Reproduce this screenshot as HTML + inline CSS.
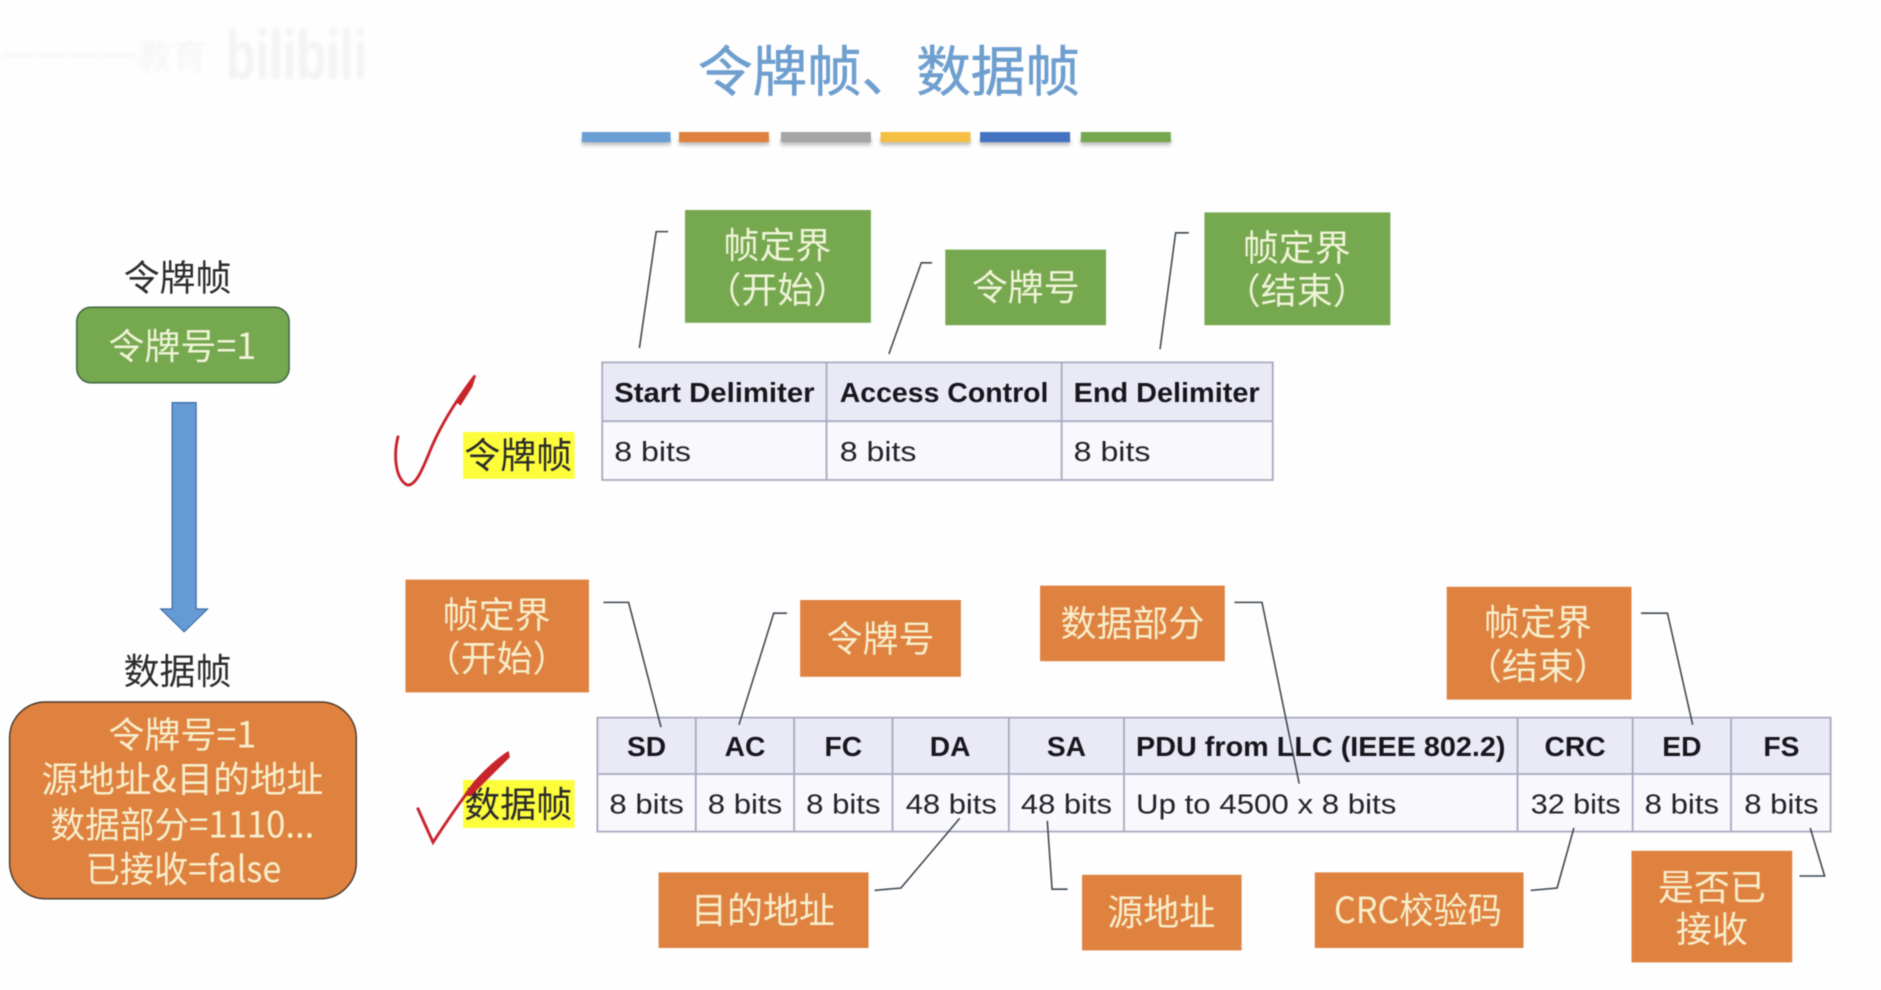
<!DOCTYPE html>
<html lang="zh">
<head>
<meta charset="utf-8">
<title>令牌帧、数据帧</title>
<style>
html,body{margin:0;padding:0;background:#fff;width:1881px;height:990px;overflow:hidden}
svg{display:block;filter:blur(.6px)}
text{font-family:"Liberation Sans","Noto Sans CJK SC",sans-serif}
.cn{font-family:"Noto Sans CJK SC","WenQuanYi Zen Hei",sans-serif;text-anchor:middle}
.w{fill:#f7eecb;font-size:30px;text-anchor:middle}
.g{fill:#f0f3d8;font-size:30px;text-anchor:middle}
.k{fill:#2b2b2b;font-size:30px;text-anchor:middle}
.th{font-weight:bold;font-size:23.5px;fill:#16161c}
.td{font-size:23.5px;fill:#22222a}
.c{text-anchor:middle}
.ld{fill:none;stroke:#3c4650;stroke-width:1.3}
.og{fill:#df8240}
.gr{fill:#76a850}
.tl{stroke:#a9a9bf;stroke-width:1.5;fill:none}
</style>
</head>
<body>
<svg width="1881" height="990" viewBox="0 0 1568 825" preserveAspectRatio="none" xmlns="http://www.w3.org/2000/svg">
<defs><filter id="b" x="-20%" y="-50%" width="140%" height="200%"><feGaussianBlur stdDeviation="1.5"/></filter></defs>
<rect width="1568" height="825" fill="#fefefe"/>

<!-- watermark -->
<g filter="url(#b)">
<text x="188" y="66" font-size="58" font-weight="bold" fill="#f3f3f3" textLength="118" lengthAdjust="spacingAndGlyphs">bilibili</text>
<text x="0" y="58" font-size="30" fill="#f4f4f4" textLength="172" lengthAdjust="spacingAndGlyphs">一一一一教育</text>
</g>

<!-- title -->
<text x="741" y="76" class="cn" font-size="45.500" fill="#6f9fcf" stroke="#6f9fcf" stroke-width=".5">令牌帧、数据帧</text>

<!-- bars -->
<g filter="url(#b)">
<rect x="485" y="115" width="74" height="6" fill="#bdbdbd"/>
<rect x="566" y="115" width="75" height="6" fill="#bdbdbd"/>
<rect x="651" y="115" width="75" height="6" fill="#bdbdbd"/>
<rect x="734" y="115" width="75" height="6" fill="#bdbdbd"/>
<rect x="817" y="115" width="75" height="6" fill="#bdbdbd"/>
<rect x="901" y="115" width="75" height="6" fill="#bdbdbd"/>
</g>
<rect x="485" y="110" width="74" height="8.500" fill="#6a9fd4"/>
<rect x="566" y="110" width="75" height="8.500" fill="#e0823f"/>
<rect x="651" y="110" width="75" height="8.500" fill="#a5a5a8"/>
<rect x="734" y="110" width="75" height="8.500" fill="#f4bf42"/>
<rect x="817" y="110" width="75" height="8.500" fill="#4272c0"/>
<rect x="901" y="110" width="75" height="8.500" fill="#76a850"/>

<!-- left column -->
<text x="148" y="242" class="cn k">令牌帧</text>
<rect x="64" y="256" width="177" height="63" rx="12" fill="#76a850" stroke="#3c6040" stroke-width="1.200"/>
<text x="152" y="299" class="cn g">令牌号=1</text>

<path d="M143.500 335.500H163.500V507.500H173L153.500 526.500L134 507.500H143.500Z" fill="#659ad4" stroke="#3a6ea5" stroke-width="1"/>

<text x="148" y="570" class="cn k">数据帧</text>
<rect x="8" y="585" width="289" height="164" rx="30" fill="#df8240" stroke="#4a3a2a" stroke-width="1.200"/>
<text x="152" y="623" class="cn w">令牌号=1</text>
<text x="152" y="660" class="cn w" textLength="235" lengthAdjust="spacingAndGlyphs">源地址&amp;目的地址</text>
<text x="152" y="698" class="cn w" textLength="220" lengthAdjust="spacingAndGlyphs">数据部分=1110...</text>
<text x="153" y="735" class="cn w" textLength="163" lengthAdjust="spacingAndGlyphs">已接收=false</text>

<!-- highlighted labels -->
<rect x="386" y="360" width="93" height="39" fill="#fdfd3c"/>
<text x="432" y="390" class="cn k">令牌帧</text>
<rect x="386" y="650" width="93" height="40" fill="#fdfd3c"/>
<text x="432" y="681" class="cn k">数据帧</text>

<!-- check marks -->
<path d="M332 363C328 378 329 398 339 404C346 406 352 392 360 372C370 349 383 330 396 313" fill="none" stroke="#c8242c" stroke-width="2.400"/>
<path d="M380 335L397 312L394 322L384 338Z" fill="#c8242c"/>
<path d="M348 673L361 702C372 685 386 665 396 652C405 642 415 633 424 627" fill="none" stroke="#c8242c" stroke-width="2.400"/>
<path d="M388 660L424 626L425 631L392 664Z" fill="#c8242c"/>

<!-- green callouts -->
<rect x="571" y="175" width="155" height="94" class="gr"/>
<text x="648" y="215" class="cn g">帧定界</text>
<text x="648" y="252" class="cn g">开始</text>
<text x="603" y="252" class="cn g">（</text>
<text x="693" y="252" class="cn g">）</text>
<rect x="788" y="208" width="134" height="63" class="gr"/>
<text x="855" y="250" class="cn g">令牌号</text>
<rect x="1004" y="177" width="155" height="94" class="gr"/>
<text x="1081" y="217" class="cn g">帧定界</text>
<text x="1081" y="253" class="cn g">结束</text>
<text x="1036" y="253" class="cn g">（</text>
<text x="1126" y="253" class="cn g">）</text>

<!-- token table -->
<rect x="502" y="302" width="559" height="49" fill="#eaeaf6"/>
<rect x="502" y="351" width="559" height="49" fill="#f8f8fd"/>
<path class="tl" d="M502 302H1061V400H502ZM502 351H1061M689 302V400M885 302V400"/>
<text x="512" y="335" class="th" textLength="167" lengthAdjust="spacingAndGlyphs">Start Delimiter</text>
<text x="700" y="335" class="th" textLength="174" lengthAdjust="spacingAndGlyphs">Access Control</text>
<text x="895" y="335" class="th" textLength="155" lengthAdjust="spacingAndGlyphs">End Delimiter</text>
<text x="512" y="384" class="td" textLength="64" lengthAdjust="spacingAndGlyphs">8 bits</text>
<text x="700" y="384" class="td" textLength="64" lengthAdjust="spacingAndGlyphs">8 bits</text>
<text x="895" y="384" class="td" textLength="64" lengthAdjust="spacingAndGlyphs">8 bits</text>

<!-- data table -->
<rect x="498" y="598" width="1028" height="47" fill="#eaeaf6"/>
<rect x="498" y="645" width="1028" height="48" fill="#f8f8fd"/>
<path class="tl" d="M498 598H1526V693H498ZM498 645H1526M580 598V693M662 598V693M744 598V693M841 598V693M937 598V693M1265 598V693M1361 598V693M1443 598V693"/>
<text x="539" y="630" class="th c">SD</text>
<text x="621" y="630" class="th c">AC</text>
<text x="703" y="630" class="th c">FC</text>
<text x="792" y="630" class="th c">DA</text>
<text x="889" y="630" class="th c">SA</text>
<text x="947" y="630" class="th" textLength="308" lengthAdjust="spacingAndGlyphs">PDU from LLC (IEEE 802.2)</text>
<text x="1313" y="630" class="th c">CRC</text>
<text x="1402" y="630" class="th c">ED</text>
<text x="1485" y="630" class="th c">FS</text>
<text x="508" y="678" class="td" textLength="62" lengthAdjust="spacingAndGlyphs">8 bits</text>
<text x="590" y="678" class="td" textLength="62" lengthAdjust="spacingAndGlyphs">8 bits</text>
<text x="672" y="678" class="td" textLength="62" lengthAdjust="spacingAndGlyphs">8 bits</text>
<text x="755" y="678" class="td" textLength="76" lengthAdjust="spacingAndGlyphs">48 bits</text>
<text x="851" y="678" class="td" textLength="76" lengthAdjust="spacingAndGlyphs">48 bits</text>
<text x="947" y="678" class="td" textLength="217" lengthAdjust="spacingAndGlyphs">Up to 4500 x 8 bits</text>
<text x="1276" y="678" class="td" textLength="75" lengthAdjust="spacingAndGlyphs">32 bits</text>
<text x="1371" y="678" class="td" textLength="62" lengthAdjust="spacingAndGlyphs">8 bits</text>
<text x="1454" y="678" class="td" textLength="62" lengthAdjust="spacingAndGlyphs">8 bits</text>

<!-- orange callouts -->
<rect x="338" y="483" width="153" height="94" class="og"/>
<text x="414" y="523" class="cn w">帧定界</text>
<text x="414" y="559" class="cn w">开始</text>
<text x="369" y="559" class="cn w">（</text>
<text x="459" y="559" class="cn w">）</text>
<rect x="667" y="500" width="134" height="64" class="og"/>
<text x="734" y="543" class="cn w">令牌号</text>
<rect x="867" y="488" width="154" height="63" class="og"/>
<text x="944" y="530" class="cn w">数据部分</text>
<rect x="1206" y="489" width="154" height="94" class="og"/>
<text x="1282" y="529" class="cn w">帧定界</text>
<text x="1282" y="566" class="cn w">结束</text>
<text x="1237" y="566" class="cn w">（</text>
<text x="1327" y="566" class="cn w">）</text>
<rect x="549" y="727" width="175" height="63" class="og"/>
<text x="636" y="769" class="cn w">目的地址</text>
<rect x="902" y="729" width="133" height="63" class="og"/>
<text x="968" y="771" class="cn w">源地址</text>
<rect x="1096" y="727" width="174" height="63" class="og"/>
<text x="1182" y="769" class="cn w" textLength="140" lengthAdjust="spacingAndGlyphs">CRC校验码</text>
<rect x="1360" y="709" width="134" height="93" class="og"/>
<text x="1427" y="750" class="cn w">是否已</text>
<text x="1427" y="785" class="cn w">接收</text>

<!-- leader lines -->
<path class="ld" d="M557 193H547L533 290"/>
<path class="ld" d="M777 219H768L741 295"/>
<path class="ld" d="M991 194H980L967 291"/>
<path class="ld" d="M503 502H524L551 606"/>
<path class="ld" d="M656 511H645L616 604"/>
<path class="ld" d="M1029 502H1052L1083 653"/>
<path class="ld" d="M1368 511H1390L1411 604"/>
<path class="ld" d="M729 742L751 740L800 682"/>
<path class="ld" d="M873 684L877 741H890"/>
<path class="ld" d="M1276 742L1298 740L1312 690"/>
<path class="ld" d="M1509 690L1521 730H1500"/>
</svg>
</body>
</html>
